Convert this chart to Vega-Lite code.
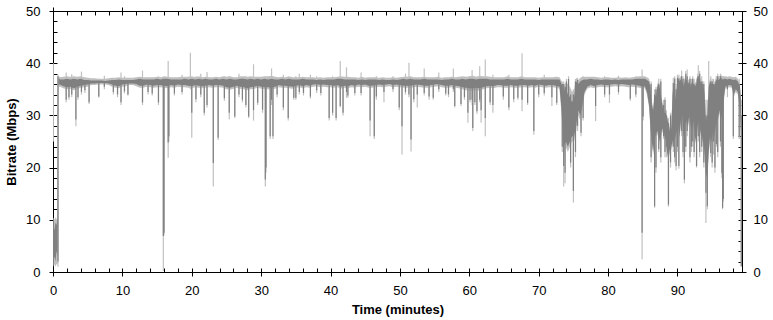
{
 "$schema": "https://vega.github.io/schema/vega-lite/v6.json",
 "width": 689, "height": 261,
 "autosize": {"type": "none"},
 "padding": {"left": 53, "top": 11, "right": 31, "bottom": 48},
 "background": "white",
 "config": {
  "view": {"stroke": "black", "strokeWidth": 1},
  "axis": {"domain": false, "grid": false, "tickColor": "black", "tickWidth": 1, "labelColor": "black", "labelFont": "Liberation Sans", "labelFontSize": 13, "titleFont": "Liberation Sans", "titleFontSize": 13, "titleFontWeight": "bold", "titleColor": "black", "labelOverlap": false, "labelFlush": false, "offset": -4}
 },
 "datasets": {
  "band": [
   {"t":0.05,"dlo":2,"dhi":9,"llo":1,"lhi":10.5},
   {"t":0.2,"dlo":3,"dhi":8,"llo":1.5,"lhi":10},
   {"t":0.35,"dlo":2,"dhi":9.5,"llo":1,"lhi":10.5},
   {"t":0.5,"dlo":4,"dhi":9,"llo":1.5,"lhi":10},
   {"t":0.65,"dlo":3,"dhi":10,"llo":1.5,"lhi":11},
   {"t":0.8,"dlo":35.8,"dhi":37.2,"llo":35.4,"lhi":37.6},
   {"t":1.0,"dlo":35.9,"dhi":36.9,"llo":35.5,"lhi":37.3},
   {"t":1.5,"dlo":35.6,"dhi":36.9,"llo":35.2,"lhi":37.4},
   {"t":2.0,"dlo":35.4,"dhi":37.0,"llo":35.0,"lhi":37.5},
   {"t":2.5,"dlo":35.5,"dhi":36.9,"llo":35.1,"lhi":37.4},
   {"t":3.0,"dlo":35.2,"dhi":37.0,"llo":34.8,"lhi":37.5},
   {"t":3.5,"dlo":35.5,"dhi":36.9,"llo":35.1,"lhi":37.4},
   {"t":4.0,"dlo":35.7,"dhi":37.0,"llo":35.3,"lhi":37.5},
   {"t":4.5,"dlo":35.8,"dhi":36.8,"llo":35.4,"lhi":37.3},
   {"t":5.0,"dlo":35.9,"dhi":36.8,"llo":35.5,"lhi":37.2},
   {"t":5.5,"dlo":36.1,"dhi":36.7,"llo":35.8,"lhi":37.1},
   {"t":6.0,"dlo":36.1,"dhi":36.7,"llo":35.8,"lhi":37.1},
   {"t":6.5,"dlo":36.2,"dhi":36.7,"llo":35.9,"lhi":37.0},
   {"t":7.0,"dlo":36.2,"dhi":36.7,"llo":35.9,"lhi":37.0},
   {"t":7.5,"dlo":36.2,"dhi":36.6,"llo":35.9,"lhi":37.0},
   {"t":8.0,"dlo":36.1,"dhi":36.7,"llo":35.8,"lhi":37.1},
   {"t":8.5,"dlo":35.9,"dhi":36.8,"llo":35.5,"lhi":37.2},
   {"t":9.0,"dlo":35.7,"dhi":36.8,"llo":35.3,"lhi":37.2},
   {"t":9.5,"dlo":35.6,"dhi":36.9,"llo":35.2,"lhi":37.3},
   {"t":10.0,"dlo":35.9,"dhi":36.8,"llo":35.5,"lhi":37.2},
   {"t":10.5,"dlo":36.0,"dhi":36.8,"llo":35.6,"lhi":37.2},
   {"t":11.0,"dlo":36.1,"dhi":36.8,"llo":35.8,"lhi":37.2},
   {"t":11.5,"dlo":36.1,"dhi":36.8,"llo":35.8,"lhi":37.2},
   {"t":12.0,"dlo":36.0,"dhi":36.9,"llo":35.6,"lhi":37.3},
   {"t":12.5,"dlo":35.7,"dhi":37.0,"llo":35.3,"lhi":37.4},
   {"t":13.0,"dlo":35.7,"dhi":36.9,"llo":35.3,"lhi":37.3},
   {"t":13.5,"dlo":35.9,"dhi":36.9,"llo":35.5,"lhi":37.3},
   {"t":14.0,"dlo":35.8,"dhi":36.9,"llo":35.4,"lhi":37.3},
   {"t":14.5,"dlo":35.7,"dhi":36.9,"llo":35.3,"lhi":37.3},
   {"t":15.0,"dlo":35.8,"dhi":37.0,"llo":35.4,"lhi":37.4},
   {"t":15.5,"dlo":35.8,"dhi":36.9,"llo":35.4,"lhi":37.3},
   {"t":16.0,"dlo":35.7,"dhi":37.0,"llo":35.3,"lhi":37.5},
   {"t":16.5,"dlo":35.6,"dhi":37.0,"llo":35.2,"lhi":37.4},
   {"t":17.0,"dlo":35.8,"dhi":36.9,"llo":35.4,"lhi":37.3},
   {"t":17.5,"dlo":35.7,"dhi":36.9,"llo":35.3,"lhi":37.3},
   {"t":18.0,"dlo":35.9,"dhi":36.9,"llo":35.5,"lhi":37.3},
   {"t":18.5,"dlo":35.8,"dhi":36.9,"llo":35.4,"lhi":37.4},
   {"t":19.0,"dlo":35.8,"dhi":37.0,"llo":35.4,"lhi":37.4},
   {"t":19.5,"dlo":35.7,"dhi":36.9,"llo":35.3,"lhi":37.4},
   {"t":20.0,"dlo":35.6,"dhi":37.0,"llo":35.2,"lhi":37.5},
   {"t":20.5,"dlo":35.8,"dhi":36.9,"llo":35.4,"lhi":37.3},
   {"t":21.0,"dlo":35.7,"dhi":37.0,"llo":35.3,"lhi":37.5},
   {"t":21.5,"dlo":35.6,"dhi":36.9,"llo":35.2,"lhi":37.3},
   {"t":22.0,"dlo":35.7,"dhi":37.0,"llo":35.3,"lhi":37.4},
   {"t":22.5,"dlo":35.8,"dhi":36.9,"llo":35.4,"lhi":37.3},
   {"t":23.0,"dlo":35.7,"dhi":36.9,"llo":35.3,"lhi":37.3},
   {"t":23.5,"dlo":35.8,"dhi":37.0,"llo":35.4,"lhi":37.4},
   {"t":24.0,"dlo":35.8,"dhi":36.9,"llo":35.4,"lhi":37.3},
   {"t":24.5,"dlo":35.7,"dhi":37.0,"llo":35.3,"lhi":37.5},
   {"t":25.0,"dlo":35.4,"dhi":36.9,"llo":35.0,"lhi":37.4},
   {"t":25.5,"dlo":35.3,"dhi":37.0,"llo":34.9,"lhi":37.5},
   {"t":26.0,"dlo":35.5,"dhi":36.9,"llo":35.1,"lhi":37.3},
   {"t":26.5,"dlo":35.7,"dhi":36.9,"llo":35.3,"lhi":37.3},
   {"t":27.0,"dlo":35.5,"dhi":37.0,"llo":35.1,"lhi":37.5},
   {"t":27.5,"dlo":35.4,"dhi":37.0,"llo":35.0,"lhi":37.5},
   {"t":28.0,"dlo":35.2,"dhi":36.9,"llo":34.8,"lhi":37.4},
   {"t":28.5,"dlo":35.4,"dhi":37.0,"llo":35.0,"lhi":37.5},
   {"t":29.0,"dlo":35.5,"dhi":36.9,"llo":35.1,"lhi":37.4},
   {"t":29.5,"dlo":35.7,"dhi":37.0,"llo":35.3,"lhi":37.4},
   {"t":30.0,"dlo":35.5,"dhi":36.9,"llo":35.1,"lhi":37.4},
   {"t":30.5,"dlo":35.4,"dhi":37.0,"llo":35.0,"lhi":37.5},
   {"t":31.0,"dlo":35.4,"dhi":36.9,"llo":35.0,"lhi":37.5},
   {"t":31.5,"dlo":35.3,"dhi":37.0,"llo":34.9,"lhi":37.6},
   {"t":32.0,"dlo":35.5,"dhi":36.9,"llo":35.1,"lhi":37.4},
   {"t":32.5,"dlo":35.8,"dhi":36.9,"llo":35.4,"lhi":37.3},
   {"t":33.0,"dlo":35.7,"dhi":37.0,"llo":35.3,"lhi":37.4},
   {"t":33.5,"dlo":35.7,"dhi":36.9,"llo":35.3,"lhi":37.3},
   {"t":34.0,"dlo":35.6,"dhi":37.0,"llo":35.2,"lhi":37.5},
   {"t":34.5,"dlo":35.5,"dhi":36.9,"llo":35.1,"lhi":37.3},
   {"t":35.0,"dlo":35.7,"dhi":36.9,"llo":35.3,"lhi":37.3},
   {"t":35.5,"dlo":35.8,"dhi":36.9,"llo":35.4,"lhi":37.3},
   {"t":36.0,"dlo":35.6,"dhi":37.0,"llo":35.2,"lhi":37.4},
   {"t":36.5,"dlo":35.8,"dhi":36.9,"llo":35.4,"lhi":37.3},
   {"t":37.0,"dlo":35.7,"dhi":36.9,"llo":35.3,"lhi":37.3},
   {"t":37.5,"dlo":35.9,"dhi":36.9,"llo":35.5,"lhi":37.3},
   {"t":38.0,"dlo":36.0,"dhi":36.8,"llo":35.6,"lhi":37.2},
   {"t":38.5,"dlo":35.8,"dhi":36.9,"llo":35.4,"lhi":37.3},
   {"t":39.0,"dlo":35.9,"dhi":36.8,"llo":35.5,"lhi":37.2},
   {"t":39.5,"dlo":35.8,"dhi":36.9,"llo":35.4,"lhi":37.3},
   {"t":40.0,"dlo":35.8,"dhi":36.9,"llo":35.4,"lhi":37.3},
   {"t":40.5,"dlo":35.7,"dhi":36.9,"llo":35.3,"lhi":37.3},
   {"t":41.0,"dlo":35.8,"dhi":37.0,"llo":35.4,"lhi":37.4},
   {"t":41.5,"dlo":35.5,"dhi":37.0,"llo":35.1,"lhi":37.5},
   {"t":42.0,"dlo":35.7,"dhi":36.9,"llo":35.3,"lhi":37.4},
   {"t":42.5,"dlo":35.6,"dhi":36.9,"llo":35.2,"lhi":37.4},
   {"t":43.0,"dlo":35.8,"dhi":36.9,"llo":35.4,"lhi":37.3},
   {"t":43.5,"dlo":35.7,"dhi":36.9,"llo":35.3,"lhi":37.3},
   {"t":44.0,"dlo":35.9,"dhi":36.8,"llo":35.5,"lhi":37.2},
   {"t":44.5,"dlo":35.8,"dhi":36.9,"llo":35.4,"lhi":37.4},
   {"t":45.0,"dlo":35.9,"dhi":36.8,"llo":35.5,"lhi":37.2},
   {"t":45.5,"dlo":35.7,"dhi":36.9,"llo":35.3,"lhi":37.3},
   {"t":46.0,"dlo":35.7,"dhi":36.9,"llo":35.3,"lhi":37.3},
   {"t":46.5,"dlo":35.8,"dhi":36.9,"llo":35.4,"lhi":37.3},
   {"t":47.0,"dlo":35.9,"dhi":36.8,"llo":35.5,"lhi":37.2},
   {"t":47.5,"dlo":35.8,"dhi":36.9,"llo":35.4,"lhi":37.3},
   {"t":48.0,"dlo":35.9,"dhi":36.8,"llo":35.5,"lhi":37.2},
   {"t":48.5,"dlo":36.0,"dhi":36.8,"llo":35.6,"lhi":37.2},
   {"t":49.0,"dlo":35.8,"dhi":36.9,"llo":35.4,"lhi":37.3},
   {"t":49.5,"dlo":35.9,"dhi":36.8,"llo":35.5,"lhi":37.2},
   {"t":50.0,"dlo":35.8,"dhi":36.9,"llo":35.4,"lhi":37.3},
   {"t":50.5,"dlo":35.7,"dhi":37.0,"llo":35.3,"lhi":37.4},
   {"t":51.0,"dlo":35.7,"dhi":36.9,"llo":35.3,"lhi":37.4},
   {"t":51.5,"dlo":35.7,"dhi":37.0,"llo":35.3,"lhi":37.5},
   {"t":52.0,"dlo":35.8,"dhi":36.9,"llo":35.4,"lhi":37.3},
   {"t":52.5,"dlo":35.9,"dhi":36.9,"llo":35.5,"lhi":37.3},
   {"t":53.0,"dlo":35.8,"dhi":36.9,"llo":35.4,"lhi":37.3},
   {"t":53.5,"dlo":35.7,"dhi":37.0,"llo":35.3,"lhi":37.4},
   {"t":54.0,"dlo":35.7,"dhi":36.9,"llo":35.3,"lhi":37.3},
   {"t":54.5,"dlo":35.8,"dhi":36.9,"llo":35.4,"lhi":37.3},
   {"t":55.0,"dlo":35.9,"dhi":36.9,"llo":35.5,"lhi":37.3},
   {"t":55.5,"dlo":36.0,"dhi":36.9,"llo":35.6,"lhi":37.4},
   {"t":56.0,"dlo":35.8,"dhi":36.8,"llo":35.4,"lhi":37.2},
   {"t":56.5,"dlo":35.7,"dhi":36.9,"llo":35.3,"lhi":37.3},
   {"t":57.0,"dlo":35.7,"dhi":36.9,"llo":35.3,"lhi":37.3},
   {"t":57.5,"dlo":35.8,"dhi":37.0,"llo":35.4,"lhi":37.4},
   {"t":58.0,"dlo":35.7,"dhi":36.9,"llo":35.3,"lhi":37.3},
   {"t":58.5,"dlo":35.6,"dhi":36.9,"llo":35.2,"lhi":37.4},
   {"t":59.0,"dlo":35.4,"dhi":37.0,"llo":35.0,"lhi":37.5},
   {"t":59.5,"dlo":35.3,"dhi":36.9,"llo":34.8,"lhi":37.4},
   {"t":60.0,"dlo":35.2,"dhi":37.0,"llo":34.7,"lhi":37.5},
   {"t":60.5,"dlo":35.2,"dhi":37.0,"llo":34.7,"lhi":37.6},
   {"t":61.0,"dlo":35.3,"dhi":36.9,"llo":34.8,"lhi":37.4},
   {"t":61.5,"dlo":35.2,"dhi":37.0,"llo":34.7,"lhi":37.6},
   {"t":62.0,"dlo":35.4,"dhi":37.0,"llo":35.0,"lhi":37.5},
   {"t":62.5,"dlo":35.6,"dhi":37.0,"llo":35.2,"lhi":37.5},
   {"t":63.0,"dlo":35.7,"dhi":36.9,"llo":35.3,"lhi":37.4},
   {"t":63.5,"dlo":35.6,"dhi":36.9,"llo":35.2,"lhi":37.3},
   {"t":64.0,"dlo":35.8,"dhi":36.9,"llo":35.4,"lhi":37.3},
   {"t":64.5,"dlo":35.8,"dhi":36.9,"llo":35.4,"lhi":37.3},
   {"t":65.0,"dlo":35.7,"dhi":36.9,"llo":35.3,"lhi":37.3},
   {"t":65.5,"dlo":35.7,"dhi":37.0,"llo":35.3,"lhi":37.5},
   {"t":66.0,"dlo":35.8,"dhi":36.9,"llo":35.4,"lhi":37.3},
   {"t":66.5,"dlo":35.7,"dhi":36.9,"llo":35.3,"lhi":37.3},
   {"t":67.0,"dlo":35.7,"dhi":36.9,"llo":35.3,"lhi":37.3},
   {"t":67.5,"dlo":35.8,"dhi":37.0,"llo":35.4,"lhi":37.5},
   {"t":68.0,"dlo":35.8,"dhi":36.9,"llo":35.4,"lhi":37.3},
   {"t":68.5,"dlo":35.7,"dhi":36.9,"llo":35.3,"lhi":37.3},
   {"t":69.0,"dlo":35.8,"dhi":36.9,"llo":35.4,"lhi":37.3},
   {"t":69.5,"dlo":35.7,"dhi":36.9,"llo":35.3,"lhi":37.3},
   {"t":70.0,"dlo":35.9,"dhi":36.8,"llo":35.5,"lhi":37.2},
   {"t":70.5,"dlo":35.8,"dhi":36.9,"llo":35.4,"lhi":37.3},
   {"t":71.0,"dlo":35.7,"dhi":36.9,"llo":35.3,"lhi":37.3},
   {"t":71.5,"dlo":35.8,"dhi":36.9,"llo":35.4,"lhi":37.3},
   {"t":72.0,"dlo":35.8,"dhi":36.9,"llo":35.4,"lhi":37.3},
   {"t":72.5,"dlo":35.7,"dhi":36.9,"llo":35.3,"lhi":37.4},
   {"t":73.0,"dlo":35.5,"dhi":36.9,"llo":35.1,"lhi":37.3},
   {"t":73.3,"dlo":31,"dhi":36.0,"llo":30,"lhi":36.6},
   {"t":73.6,"dlo":24,"dhi":34.5,"llo":22,"lhi":35.5},
   {"t":73.9,"dlo":25,"dhi":35.5,"llo":24,"lhi":36.3},
   {"t":74.2,"dlo":24,"dhi":34.0,"llo":23,"lhi":36.0},
   {"t":74.5,"dlo":25,"dhi":33.5,"llo":24,"lhi":35.5},
   {"t":74.8,"dlo":26,"dhi":32.5,"llo":25,"lhi":34.5},
   {"t":75.1,"dlo":26,"dhi":33.5,"llo":25,"lhi":35.0},
   {"t":75.4,"dlo":28,"dhi":36.5,"llo":27,"lhi":37.2},
   {"t":75.7,"dlo":31,"dhi":36.0,"llo":30,"lhi":36.8},
   {"t":76.0,"dlo":30,"dhi":36.5,"llo":29,"lhi":37.2},
   {"t":76.3,"dlo":32,"dhi":36.8,"llo":31,"lhi":37.4},
   {"t":76.6,"dlo":34.5,"dhi":36.9,"llo":34,"lhi":37.4},
   {"t":77.0,"dlo":35.5,"dhi":36.9,"llo":35.1,"lhi":37.4},
   {"t":77.5,"dlo":35.8,"dhi":37.0,"llo":35.4,"lhi":37.4},
   {"t":78.0,"dlo":35.6,"dhi":36.9,"llo":35.2,"lhi":37.4},
   {"t":78.5,"dlo":35.8,"dhi":36.9,"llo":35.4,"lhi":37.3},
   {"t":79.0,"dlo":35.9,"dhi":36.8,"llo":35.5,"lhi":37.2},
   {"t":79.5,"dlo":35.8,"dhi":36.9,"llo":35.4,"lhi":37.3},
   {"t":80.0,"dlo":35.8,"dhi":36.9,"llo":35.4,"lhi":37.3},
   {"t":80.5,"dlo":35.9,"dhi":36.8,"llo":35.5,"lhi":37.2},
   {"t":81.0,"dlo":36.0,"dhi":36.9,"llo":35.6,"lhi":37.2},
   {"t":81.5,"dlo":35.9,"dhi":36.8,"llo":35.5,"lhi":37.3},
   {"t":82.0,"dlo":36.0,"dhi":36.9,"llo":35.6,"lhi":37.2},
   {"t":82.5,"dlo":35.9,"dhi":36.9,"llo":35.5,"lhi":37.3},
   {"t":83.0,"dlo":35.8,"dhi":36.9,"llo":35.4,"lhi":37.2},
   {"t":83.5,"dlo":35.9,"dhi":36.9,"llo":35.5,"lhi":37.3},
   {"t":84.0,"dlo":35.8,"dhi":37.0,"llo":35.4,"lhi":37.4},
   {"t":84.5,"dlo":35.7,"dhi":37.0,"llo":35.3,"lhi":37.5},
   {"t":85.0,"dlo":35.5,"dhi":37.0,"llo":35.1,"lhi":37.5},
   {"t":85.3,"dlo":35.6,"dhi":37.0,"llo":35.2,"lhi":37.5},
   {"t":85.6,"dlo":34.5,"dhi":36.8,"llo":34,"lhi":37.3},
   {"t":85.9,"dlo":32,"dhi":36.5,"llo":31.5,"lhi":37.0},
   {"t":86.1,"dlo":28,"dhi":35.5,"llo":27.4,"lhi":36.1},
   {"t":86.3,"dlo":25,"dhi":32,"llo":24.4,"lhi":32.6},
   {"t":86.5,"dlo":23,"dhi":31,"llo":22.4,"lhi":31.6},
   {"t":86.7,"dlo":25.5,"dhi":34,"llo":24.9,"lhi":34.6},
   {"t":86.9,"dlo":26.5,"dhi":33.5,"llo":25.9,"lhi":34.1},
   {"t":87.1,"dlo":27,"dhi":35.5,"llo":26.4,"lhi":36.1},
   {"t":87.3,"dlo":26,"dhi":36.0,"llo":25.4,"lhi":36.6},
   {"t":87.5,"dlo":25,"dhi":35.0,"llo":24.4,"lhi":35.6},
   {"t":87.7,"dlo":27,"dhi":33.0,"llo":26.4,"lhi":33.6},
   {"t":87.9,"dlo":27.5,"dhi":31.5,"llo":26.9,"lhi":32.1},
   {"t":88.1,"dlo":26.5,"dhi":30.5,"llo":25.9,"lhi":31.1},
   {"t":88.3,"dlo":25.5,"dhi":30.5,"llo":24.9,"lhi":31.1},
   {"t":88.5,"dlo":23,"dhi":29.5,"llo":22.4,"lhi":30.1},
   {"t":88.7,"dlo":22,"dhi":28.5,"llo":21.4,"lhi":29.1},
   {"t":88.9,"dlo":23.5,"dhi":27.0,"llo":22.9,"lhi":27.6},
   {"t":89.1,"dlo":24,"dhi":27.5,"llo":23.4,"lhi":28.1},
   {"t":89.3,"dlo":25,"dhi":34,"llo":24.4,"lhi":34.6},
   {"t":89.5,"dlo":25.5,"dhi":36.0,"llo":24.9,"lhi":36.6},
   {"t":89.7,"dlo":26,"dhi":33,"llo":25.4,"lhi":33.6},
   {"t":89.9,"dlo":27,"dhi":35,"llo":26.4,"lhi":35.6},
   {"t":90.1,"dlo":28,"dhi":37.0,"llo":27.4,"lhi":37.6},
   {"t":90.3,"dlo":26,"dhi":36.5,"llo":25.4,"lhi":37.1},
   {"t":90.5,"dlo":29,"dhi":37.0,"llo":28.4,"lhi":37.6},
   {"t":90.7,"dlo":30,"dhi":36.5,"llo":29.4,"lhi":37.1},
   {"t":90.9,"dlo":26,"dhi":35.5,"llo":25.4,"lhi":36.1},
   {"t":91.1,"dlo":28,"dhi":37.0,"llo":27.4,"lhi":37.6},
   {"t":91.3,"dlo":29,"dhi":36.8,"llo":28.4,"lhi":37.4},
   {"t":91.5,"dlo":28,"dhi":36.0,"llo":27.4,"lhi":36.6},
   {"t":91.7,"dlo":30,"dhi":36.5,"llo":29.4,"lhi":37.1},
   {"t":91.9,"dlo":28,"dhi":35.5,"llo":27.4,"lhi":36.1},
   {"t":92.1,"dlo":27,"dhi":36.5,"llo":26.4,"lhi":37.1},
   {"t":92.3,"dlo":29,"dhi":36.0,"llo":28.4,"lhi":36.6},
   {"t":92.5,"dlo":26,"dhi":35.5,"llo":25.4,"lhi":36.1},
   {"t":92.7,"dlo":25,"dhi":36.0,"llo":24.4,"lhi":36.6},
   {"t":92.9,"dlo":28,"dhi":37.5,"llo":27.4,"lhi":38.1},
   {"t":93.1,"dlo":29,"dhi":37.0,"llo":28.4,"lhi":37.6},
   {"t":93.3,"dlo":27,"dhi":36.5,"llo":26.4,"lhi":37.1},
   {"t":93.5,"dlo":26,"dhi":36.0,"llo":25.4,"lhi":36.6},
   {"t":93.7,"dlo":25,"dhi":36.0,"llo":24.4,"lhi":36.6},
   {"t":93.9,"dlo":23,"dhi":34,"llo":22.4,"lhi":34.6},
   {"t":94.1,"dlo":19,"dhi":29,"llo":18.4,"lhi":29.6},
   {"t":94.3,"dlo":18,"dhi":30,"llo":17.4,"lhi":30.6},
   {"t":94.5,"dlo":23,"dhi":35.5,"llo":22.4,"lhi":36.1},
   {"t":94.7,"dlo":26,"dhi":36.5,"llo":25.4,"lhi":37.1},
   {"t":94.9,"dlo":25,"dhi":36.0,"llo":24.4,"lhi":36.6},
   {"t":95.1,"dlo":27,"dhi":36.0,"llo":26.4,"lhi":36.6},
   {"t":95.3,"dlo":26,"dhi":35.5,"llo":25.4,"lhi":36.1},
   {"t":95.5,"dlo":28,"dhi":36.5,"llo":27.4,"lhi":37.1},
   {"t":95.7,"dlo":29,"dhi":37.0,"llo":28.4,"lhi":37.6},
   {"t":95.9,"dlo":30,"dhi":36.8,"llo":29.4,"lhi":37.4},
   {"t":96.1,"dlo":31,"dhi":37.0,"llo":30.4,"lhi":37.6},
   {"t":96.3,"dlo":30,"dhi":37.2,"llo":29.4,"lhi":37.8},
   {"t":96.5,"dlo":29,"dhi":36.8,"llo":28.4,"lhi":37.4},
   {"t":96.7,"dlo":33.5,"dhi":37.0,"llo":33,"lhi":37.5},
   {"t":96.9,"dlo":35.5,"dhi":37.0,"llo":35.1,"lhi":37.5},
   {"t":97.2,"dlo":35.7,"dhi":36.9,"llo":35.3,"lhi":37.4},
   {"t":97.5,"dlo":35.8,"dhi":37.0,"llo":35.4,"lhi":37.5},
   {"t":97.8,"dlo":35.7,"dhi":36.9,"llo":35.3,"lhi":37.4},
   {"t":98.1,"dlo":34,"dhi":36.8,"llo":33.5,"lhi":37.3},
   {"t":98.4,"dlo":35,"dhi":36.9,"llo":34.5,"lhi":37.4},
   {"t":98.7,"dlo":34.5,"dhi":36.5,"llo":34.0,"lhi":37.0},
   {"t":99.0,"dlo":31,"dhi":35.5,"llo":30.4,"lhi":36.1},
   {"t":99.15,"dlo":27,"dhi":33,"llo":26.4,"lhi":33.6}
  ],
  "spikes": [
   {"t":0.05,"dlo":36,"dhi":36,"llo":25,"lhi":40},
   {"t":0.72,"dlo":2,"dhi":37.5,"llo":1,"lhi":37.8},
   {"t":1.9,"dlo":33,"dhi":36.6,"llo":32.5,"lhi":38.2},
   {"t":2.3,"dlo":33.5,"dhi":36.6,"llo":33,"lhi":37},
   {"t":2.7,"dlo":34,"dhi":36.6,"llo":33.5,"lhi":37.9},
   {"t":3.3,"dlo":29.2,"dhi":36.6,"llo":27.9,"lhi":37},
   {"t":3.6,"dlo":33.5,"dhi":36.6,"llo":33,"lhi":37},
   {"t":4.1,"dlo":34.5,"dhi":36.6,"llo":34,"lhi":38.4},
   {"t":4.6,"dlo":34.8,"dhi":36.6,"llo":34.3,"lhi":37},
   {"t":5.2,"dlo":32.5,"dhi":36.6,"llo":32.2,"lhi":37},
   {"t":6.6,"dlo":33.6,"dhi":36.6,"llo":33.4,"lhi":37},
   {"t":7.4,"dlo":35.5,"dhi":36.6,"llo":35,"lhi":37.6},
   {"t":8.7,"dlo":34.5,"dhi":36.6,"llo":34,"lhi":37},
   {"t":9.3,"dlo":34,"dhi":36.6,"llo":33.5,"lhi":37},
   {"t":9.8,"dlo":32.5,"dhi":36.6,"llo":32,"lhi":38.2},
   {"t":10.3,"dlo":34.6,"dhi":36.6,"llo":34.2,"lhi":37.5},
   {"t":10.8,"dlo":34,"dhi":36.6,"llo":33.8,"lhi":37},
   {"t":12.9,"dlo":32.5,"dhi":36.6,"llo":32,"lhi":38.6},
   {"t":13.7,"dlo":34.5,"dhi":36.6,"llo":34,"lhi":37.2},
   {"t":14.3,"dlo":34.2,"dhi":36.6,"llo":33.8,"lhi":37},
   {"t":15.2,"dlo":32.5,"dhi":36.6,"llo":32,"lhi":37.5},
   {"t":15.9,"dlo":6.9,"dhi":36.6,"llo":0.2,"lhi":37},
   {"t":16.0,"dlo":7.5,"dhi":36.6,"llo":7,"lhi":37},
   {"t":16.6,"dlo":24.8,"dhi":36.6,"llo":21.9,"lhi":40.4},
   {"t":16.7,"dlo":26,"dhi":36.6,"llo":25,"lhi":37},
   {"t":17.5,"dlo":34.2,"dhi":36.6,"llo":33.8,"lhi":37},
   {"t":18.6,"dlo":34.5,"dhi":36.6,"llo":34,"lhi":37.8},
   {"t":19.8,"dlo":36,"dhi":36,"llo":35,"lhi":42},
   {"t":20.0,"dlo":30.5,"dhi":36.6,"llo":25.7,"lhi":37},
   {"t":20.6,"dlo":33.1,"dhi":36.6,"llo":32.5,"lhi":37.5},
   {"t":21.3,"dlo":34,"dhi":36.6,"llo":33.5,"lhi":38},
   {"t":21.8,"dlo":30.5,"dhi":36.6,"llo":30,"lhi":37},
   {"t":22.2,"dlo":32,"dhi":36.6,"llo":31.5,"lhi":38.3},
   {"t":23.1,"dlo":20.9,"dhi":36.6,"llo":16.4,"lhi":37},
   {"t":23.8,"dlo":25.7,"dhi":36.6,"llo":25.3,"lhi":37},
   {"t":24.7,"dlo":33.3,"dhi":36.6,"llo":32.8,"lhi":37.5},
   {"t":25.4,"dlo":30.5,"dhi":36.6,"llo":29.2,"lhi":37.5},
   {"t":26.2,"dlo":29.8,"dhi":36.6,"llo":29.5,"lhi":37},
   {"t":26.8,"dlo":34,"dhi":36.6,"llo":33.5,"lhi":38},
   {"t":27.3,"dlo":33,"dhi":36.6,"llo":32.5,"lhi":37},
   {"t":27.8,"dlo":32,"dhi":36.6,"llo":31.5,"lhi":37.5},
   {"t":28.2,"dlo":29.8,"dhi":36.6,"llo":29.5,"lhi":37},
   {"t":28.9,"dlo":31,"dhi":36.6,"llo":29,"lhi":39.8},
   {"t":29.5,"dlo":32.4,"dhi":36.6,"llo":32,"lhi":37},
   {"t":30.2,"dlo":31.1,"dhi":36.6,"llo":30.5,"lhi":37},
   {"t":30.6,"dlo":17.7,"dhi":36.6,"llo":16.4,"lhi":37},
   {"t":30.7,"dlo":20,"dhi":36.6,"llo":19,"lhi":37},
   {"t":31.3,"dlo":26,"dhi":36.6,"llo":25.5,"lhi":37},
   {"t":31.5,"dlo":33,"dhi":36.6,"llo":32,"lhi":39},
   {"t":31.7,"dlo":26,"dhi":36.6,"llo":25.5,"lhi":37},
   {"t":32.3,"dlo":34,"dhi":36.6,"llo":33.5,"lhi":37},
   {"t":33.2,"dlo":31.5,"dhi":36.6,"llo":31,"lhi":37.8},
   {"t":33.9,"dlo":29.5,"dhi":36.6,"llo":29,"lhi":37},
   {"t":34.7,"dlo":33.4,"dhi":36.6,"llo":33,"lhi":37},
   {"t":35.0,"dlo":33.4,"dhi":36.6,"llo":33,"lhi":37.5},
   {"t":35.5,"dlo":34.5,"dhi":36.6,"llo":34,"lhi":38},
   {"t":36.1,"dlo":34.3,"dhi":36.6,"llo":33.8,"lhi":37},
   {"t":37.1,"dlo":33.6,"dhi":36.6,"llo":33.2,"lhi":37.8},
   {"t":38.0,"dlo":34.8,"dhi":36.6,"llo":34.3,"lhi":37.5},
   {"t":38.6,"dlo":34.3,"dhi":36.6,"llo":33.8,"lhi":37},
   {"t":39.8,"dlo":29.5,"dhi":36.6,"llo":29,"lhi":37},
   {"t":40.3,"dlo":30.5,"dhi":36.6,"llo":30,"lhi":37.5},
   {"t":40.8,"dlo":29.5,"dhi":36.6,"llo":29,"lhi":37},
   {"t":41.4,"dlo":31.8,"dhi":36.6,"llo":31.5,"lhi":40.4},
   {"t":41.8,"dlo":30.5,"dhi":36.6,"llo":30,"lhi":37},
   {"t":42.3,"dlo":34.5,"dhi":36.6,"llo":33.4,"lhi":39.2},
   {"t":42.5,"dlo":33.8,"dhi":36.6,"llo":33.4,"lhi":37},
   {"t":43.5,"dlo":34.3,"dhi":36.6,"llo":33.8,"lhi":37},
   {"t":44.4,"dlo":34.3,"dhi":36.6,"llo":33.8,"lhi":38.2},
   {"t":45.7,"dlo":29,"dhi":36.6,"llo":26,"lhi":37},
   {"t":46.3,"dlo":26,"dhi":36.6,"llo":25.5,"lhi":37},
   {"t":46.6,"dlo":33.6,"dhi":36.6,"llo":33,"lhi":37.5},
   {"t":47.7,"dlo":34.5,"dhi":36.6,"llo":32.5,"lhi":37},
   {"t":49.0,"dlo":35,"dhi":36.6,"llo":34.5,"lhi":37.5},
   {"t":49.9,"dlo":31.5,"dhi":36.6,"llo":31,"lhi":37},
   {"t":50.3,"dlo":27.9,"dhi":36.6,"llo":22.5,"lhi":37},
   {"t":50.8,"dlo":34.5,"dhi":36.6,"llo":34,"lhi":38},
   {"t":51.3,"dlo":34,"dhi":36.6,"llo":33.5,"lhi":40.1},
   {"t":51.6,"dlo":25.4,"dhi":36.6,"llo":23.1,"lhi":37},
   {"t":52.0,"dlo":33.1,"dhi":36.6,"llo":32.5,"lhi":37},
   {"t":52.5,"dlo":34,"dhi":36.6,"llo":31.5,"lhi":37},
   {"t":53.5,"dlo":34.3,"dhi":36.6,"llo":33.8,"lhi":39},
   {"t":54.2,"dlo":33.6,"dhi":36.6,"llo":33,"lhi":37},
   {"t":54.8,"dlo":33.4,"dhi":36.6,"llo":33,"lhi":37},
   {"t":55.6,"dlo":35,"dhi":36.6,"llo":34.5,"lhi":38.2},
   {"t":56.6,"dlo":34.2,"dhi":36.6,"llo":33.8,"lhi":37},
   {"t":57.0,"dlo":34,"dhi":36.6,"llo":33.5,"lhi":37},
   {"t":57.7,"dlo":35,"dhi":36.6,"llo":34.5,"lhi":39},
   {"t":57.9,"dlo":31.8,"dhi":36.6,"llo":31.5,"lhi":37},
   {"t":58.8,"dlo":32.2,"dhi":36.6,"llo":31.8,"lhi":37},
   {"t":59.3,"dlo":33.5,"dhi":36.6,"llo":33,"lhi":37.4},
   {"t":59.8,"dlo":30.5,"dhi":36.6,"llo":28.6,"lhi":37},
   {"t":60.1,"dlo":33,"dhi":36.6,"llo":32.5,"lhi":37.5},
   {"t":60.4,"dlo":33,"dhi":36.6,"llo":32,"lhi":38.7},
   {"t":60.5,"dlo":27.6,"dhi":36.6,"llo":27,"lhi":37},
   {"t":60.8,"dlo":32.5,"dhi":36.6,"llo":32,"lhi":37.4},
   {"t":61.1,"dlo":30.8,"dhi":36.6,"llo":30.3,"lhi":37},
   {"t":61.5,"dlo":33,"dhi":36.6,"llo":32.5,"lhi":39.4},
   {"t":61.7,"dlo":31,"dhi":36.6,"llo":28.6,"lhi":37},
   {"t":62.3,"dlo":29.5,"dhi":36.6,"llo":26,"lhi":40.7},
   {"t":63.0,"dlo":32.5,"dhi":36.6,"llo":32,"lhi":37},
   {"t":63.4,"dlo":32,"dhi":36.6,"llo":30.5,"lhi":37.8},
   {"t":64.9,"dlo":33.6,"dhi":36.6,"llo":33,"lhi":37},
   {"t":65.7,"dlo":31.5,"dhi":36.6,"llo":31,"lhi":37.8},
   {"t":66.4,"dlo":33.1,"dhi":36.6,"llo":32.5,"lhi":37},
   {"t":67.0,"dlo":33.4,"dhi":36.6,"llo":33,"lhi":37},
   {"t":67.6,"dlo":33,"dhi":36.6,"llo":30.8,"lhi":41.9},
   {"t":68.4,"dlo":32.4,"dhi":36.6,"llo":32,"lhi":37},
   {"t":69.3,"dlo":27,"dhi":36.6,"llo":26.3,"lhi":37},
   {"t":70.0,"dlo":34,"dhi":36.6,"llo":33.5,"lhi":37},
   {"t":70.8,"dlo":34.3,"dhi":36.6,"llo":33.8,"lhi":37.8},
   {"t":71.9,"dlo":33.5,"dhi":36.6,"llo":31.8,"lhi":37},
   {"t":72.6,"dlo":32.4,"dhi":36.6,"llo":32,"lhi":37},
   {"t":73.4,"dlo":24,"dhi":36,"llo":23,"lhi":36.5},
   {"t":73.6,"dlo":20.3,"dhi":36,"llo":16.4,"lhi":36.5},
   {"t":73.8,"dlo":19,"dhi":35.5,"llo":17,"lhi":36},
   {"t":74.0,"dlo":26,"dhi":36.5,"llo":25,"lhi":37},
   {"t":74.3,"dlo":27,"dhi":37,"llo":26,"lhi":37.5},
   {"t":74.6,"dlo":21,"dhi":34,"llo":20,"lhi":35},
   {"t":75.0,"dlo":15.5,"dhi":34,"llo":13.3,"lhi":35},
   {"t":75.3,"dlo":23,"dhi":36.5,"llo":22,"lhi":37},
   {"t":75.6,"dlo":28,"dhi":36.8,"llo":27,"lhi":37.2},
   {"t":76.1,"dlo":26.7,"dhi":36.6,"llo":26,"lhi":37},
   {"t":76.4,"dlo":29.5,"dhi":36.6,"llo":29,"lhi":37.5},
   {"t":78.2,"dlo":31.8,"dhi":36.6,"llo":28.9,"lhi":37},
   {"t":79.5,"dlo":34,"dhi":36.6,"llo":33.5,"lhi":37.5},
   {"t":80.2,"dlo":34,"dhi":36.6,"llo":32.4,"lhi":37},
   {"t":81.5,"dlo":34.5,"dhi":36.6,"llo":34,"lhi":37.6},
   {"t":83.2,"dlo":33.2,"dhi":36.6,"llo":32.8,"lhi":37},
   {"t":84.0,"dlo":34,"dhi":36.6,"llo":33.5,"lhi":37.5},
   {"t":84.9,"dlo":7.5,"dhi":36.6,"llo":2.4,"lhi":38.8},
   {"t":85.05,"dlo":29.8,"dhi":36.6,"llo":29,"lhi":37},
   {"t":86.2,"dlo":22,"dhi":36,"llo":21,"lhi":36.5},
   {"t":86.7,"dlo":12.6,"dhi":34,"llo":12.3,"lhi":35},
   {"t":86.9,"dlo":20,"dhi":35,"llo":19,"lhi":35.5},
   {"t":87.3,"dlo":23.5,"dhi":36,"llo":23,"lhi":37},
   {"t":87.6,"dlo":22,"dhi":36.5,"llo":21,"lhi":37},
   {"t":88.0,"dlo":26,"dhi":32,"llo":25.5,"lhi":33},
   {"t":88.2,"dlo":23,"dhi":33,"llo":22,"lhi":33.5},
   {"t":88.4,"dlo":24,"dhi":30,"llo":22,"lhi":31},
   {"t":88.7,"dlo":12.9,"dhi":28.5,"llo":12.5,"lhi":29.5},
   {"t":89.0,"dlo":21,"dhi":30,"llo":20,"lhi":30.5},
   {"t":89.4,"dlo":24,"dhi":36.2,"llo":23,"lhi":37.2},
   {"t":89.6,"dlo":22,"dhi":37,"llo":21,"lhi":37.5},
   {"t":89.8,"dlo":20.3,"dhi":35,"llo":19.5,"lhi":36},
   {"t":90.0,"dlo":24,"dhi":37.2,"llo":23,"lhi":37.8},
   {"t":90.2,"dlo":20.3,"dhi":37,"llo":19.8,"lhi":37.8},
   {"t":90.6,"dlo":27,"dhi":37.5,"llo":26,"lhi":38.6},
   {"t":90.8,"dlo":23,"dhi":37,"llo":22,"lhi":37.5},
   {"t":91.0,"dlo":17.7,"dhi":36,"llo":17,"lhi":37},
   {"t":91.2,"dlo":24,"dhi":38,"llo":23,"lhi":38.5},
   {"t":91.4,"dlo":27,"dhi":37.5,"llo":26,"lhi":38.8},
   {"t":91.8,"dlo":22,"dhi":37,"llo":21,"lhi":37.5},
   {"t":92.0,"dlo":24,"dhi":36,"llo":23,"lhi":37},
   {"t":92.2,"dlo":25,"dhi":37,"llo":24,"lhi":37.5},
   {"t":92.4,"dlo":23,"dhi":36,"llo":22,"lhi":37},
   {"t":92.75,"dlo":20.3,"dhi":36,"llo":20,"lhi":37},
   {"t":93.0,"dlo":26,"dhi":37.5,"llo":25,"lhi":39.6},
   {"t":93.2,"dlo":23,"dhi":38,"llo":22,"lhi":38.5},
   {"t":93.5,"dlo":24,"dhi":36.5,"llo":23,"lhi":37.5},
   {"t":93.8,"dlo":21,"dhi":36,"llo":20,"lhi":36.5},
   {"t":94.1,"dlo":15.2,"dhi":30,"llo":9.4,"lhi":33},
   {"t":94.3,"dlo":12.6,"dhi":30,"llo":12,"lhi":33},
   {"t":94.5,"dlo":30,"dhi":33,"llo":25,"lhi":40.4},
   {"t":94.8,"dlo":22.8,"dhi":36.5,"llo":22,"lhi":37.5},
   {"t":95.0,"dlo":21,"dhi":36.5,"llo":20,"lhi":37},
   {"t":95.2,"dlo":25,"dhi":36,"llo":22.5,"lhi":37},
   {"t":95.4,"dlo":20,"dhi":36,"llo":19,"lhi":36.5},
   {"t":95.6,"dlo":24.5,"dhi":36.5,"llo":24,"lhi":37.5},
   {"t":95.8,"dlo":23,"dhi":37.5,"llo":22,"lhi":38},
   {"t":96.2,"dlo":25,"dhi":37.5,"llo":24,"lhi":38},
   {"t":96.4,"dlo":19,"dhi":37,"llo":18,"lhi":37.5},
   {"t":96.5,"dlo":12.3,"dhi":36.5,"llo":12,"lhi":37.5},
   {"t":96.6,"dlo":14,"dhi":36.5,"llo":13.5,"lhi":37.5},
   {"t":97.2,"dlo":35,"dhi":36.6,"llo":33.5,"lhi":37},
   {"t":98.05,"dlo":26,"dhi":36.6,"llo":25.5,"lhi":37},
   {"t":98.9,"dlo":26,"dhi":36,"llo":25.5,"lhi":37},
   {"t":99.2,"dlo":1.1,"dhi":30,"llo":1,"lhi":33}
  ]
 },
 "layer": [
  {
   "data": {"name": "band"},
   "mark": {"type": "area", "color": "#c0c0c0", "clip": true},
   "encoding": {
    "x": {"field": "t", "type": "quantitative", "scale": {"domain": [0, 99.3], "nice": false},
     "axis": {"orient": "bottom", "values": [0,2,4,6,8,10,12,14,16,18,20,22,24,26,28,30,32,34,36,38,40,42,44,46,48,50,52,54,56,58,60,62,64,66,68,70,72,74,76,78,80,82,84,86,88,90,92,94,96,98],
      "tickSize": {"condition": {"test": "datum.value % 10 === 0", "value": 8}, "value": 4},
      "labelExpr": "datum.value % 10 === 0 ? datum.label : ''",
      "labelPadding": 8, "title": "Time (minutes)", "titlePadding": 6}},
    "y": {"field": "llo", "type": "quantitative", "scale": {"domain": [0, 50], "nice": false},
     "axis": {"orient": "left", "values": [0,2,4,6,8,10,12,14,16,18,20,22,24,26,28,30,32,34,36,38,40,42,44,46,48,50],
      "tickSize": {"condition": {"test": "datum.value % 10 === 0", "value": 8}, "value": 4},
      "labelExpr": "datum.value % 10 === 0 ? datum.label : ''",
      "labelPadding": 9, "title": "Bitrate (Mbps)", "titlePadding": 7}},
    "y2": {"field": "lhi"}
   }
  },
  {
   "data": {"name": "spikes"},
   "mark": {"type": "rule", "color": "#c0c0c0", "strokeWidth": 1.2, "clip": true},
   "encoding": {
    "x": {"field": "t", "type": "quantitative", "axis": null},
    "y": {"field": "llo", "type": "quantitative", "axis": null},
    "y2": {"field": "lhi"}
   }
  },
  {
   "data": {"name": "band"},
   "mark": {"type": "area", "color": "#808080", "clip": true},
   "encoding": {
    "x": {"field": "t", "type": "quantitative", "axis": null},
    "y": {"field": "dlo", "type": "quantitative", "axis": null},
    "y2": {"field": "dhi"}
   }
  },
  {
   "data": {"name": "spikes"},
   "mark": {"type": "rule", "color": "#808080", "strokeWidth": 1.2, "clip": true},
   "encoding": {
    "x": {"field": "t", "type": "quantitative",
     "axis": {"orient": "top", "values": [0,2,4,6,8,10,12,14,16,18,20,22,24,26,28,30,32,34,36,38,40,42,44,46,48,50,52,54,56,58,60,62,64,66,68,70,72,74,76,78,80,82,84,86,88,90,92,94,96,98],
      "tickSize": {"condition": {"test": "datum.value % 10 === 0", "value": 8}, "value": 4},
      "labels": false, "title": null}},
    "y": {"field": "dlo", "type": "quantitative",
     "axis": {"orient": "right", "values": [0,2,4,6,8,10,12,14,16,18,20,22,24,26,28,30,32,34,36,38,40,42,44,46,48,50],
      "tickSize": {"condition": {"test": "datum.value % 10 === 0", "value": 8}, "value": 4},
      "labelExpr": "datum.value % 10 === 0 ? datum.label : ''",
      "labelPadding": 7, "title": null}},
    "y2": {"field": "dhi"}
   }
  }
 ],
 "resolve": {"axis": {"x": "independent", "y": "independent"}}
}
